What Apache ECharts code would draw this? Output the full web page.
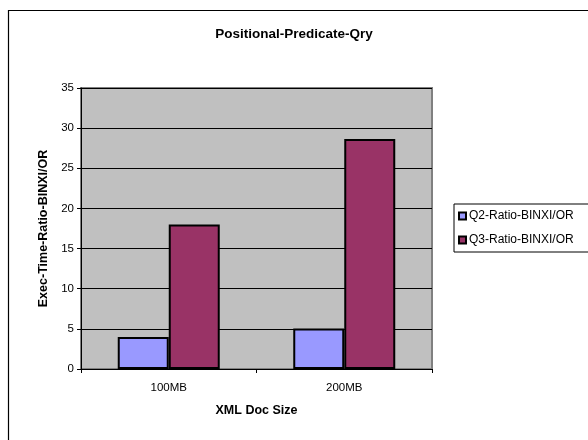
<!DOCTYPE html>
<html>
<head>
<meta charset="utf-8">
<script src="https://cdn.jsdelivr.net/npm/echarts@6/dist/echarts.min.js"></script>
<style>
html,body{margin:0;padding:0;background:#fff;}
#chart{width:588px;height:440px;}
</style>
</head>
<body>
<div id="chart"></div>
<script>
// Document sizes on the x axis
const categories = ['100MB', '200MB'];
// Execution time ratios BINXI / OR per query
const q2Ratio = [4.0, 5.05];
const q3Ratio = [18.0, 28.65];
const seriesNames = ['Q2-Ratio-BINXI/OR', 'Q3-Ratio-BINXI/OR'];
const yTicks = { min: 0, max: 35, interval: 5 };

const FONT = '"Liberation Sans", Arial, sans-serif';
const chart = echarts.init(document.getElementById('chart'), null, { renderer: 'canvas' });

chart.setOption({
  backgroundColor: '#ffffff',
  animation: false,
  graphic: [
    {
      type: 'rect',
      shape: { x: 8.5, y: 10.5, width: 620, height: 460 },
      style: { fill: 'none', stroke: '#000', lineWidth: 1.2 },
      silent: true
    }
  ],
  title: {
    text: 'Positional-Predicate-Qry',
    left: 289,
    top: 22,
    textAlign: 'center',
    textStyle: { fontFamily: FONT, fontSize: 13.5, fontWeight: 'bold', color: '#000' }
  },
  legend: {
    orient: 'vertical',
    left: 454,
    top: 204,
    width: 140,
    padding: [6, 40, 6, 4],
    itemGap: 12,
    itemWidth: 7,
    itemHeight: 7,
    borderColor: '#000',
    borderWidth: 1,
    backgroundColor: '#fff',
    icon: 'rect',
    textStyle: { fontFamily: FONT, fontSize: 12, color: '#000', padding: [0, 0, 0, -2] },
    data: seriesNames
  },
  grid: {
    left: 81,
    top: 88,
    width: 351,
    height: 281,
    show: true,
    backgroundColor: '#c0c0c0',
    borderColor: '#808080',
    borderWidth: 2
  },
  xAxis: {
    type: 'category',
    data: categories,
    name: 'XML Doc Size',
    nameLocation: 'middle',
    nameGap: 35,
    nameTextStyle: { fontFamily: FONT, fontSize: 12.5, fontWeight: 'bold', color: '#000' },
    axisLine: { show: true, lineStyle: { color: '#000', width: 1 } },
    axisTick: { show: true, alignWithLabel: false, length: 4, lineStyle: { color: '#000' } },
    axisLabel: { fontFamily: FONT, fontSize: 11.5, color: '#000', margin: 13 },
    splitLine: { show: false }
  },
  yAxis: {
    type: 'value',
    min: yTicks.min,
    max: yTicks.max,
    interval: yTicks.interval,
    name: 'Exec-Time-Ratio-BINXI/OR',
    nameLocation: 'middle',
    nameGap: 31,
    nameTextStyle: { fontFamily: FONT, fontSize: 12.5, fontWeight: 'bold', color: '#000' },
    axisLine: { show: true, lineStyle: { color: '#000', width: 1 } },
    axisTick: { show: true, length: 4, lineStyle: { color: '#000' } },
    axisLabel: { fontFamily: FONT, fontSize: 11.5, color: '#000', margin: 7 },
    splitLine: { show: true, lineStyle: { color: '#000', width: 1 } }
  },
  series: [
    {
      name: seriesNames[0],
      type: 'bar',
      data: q2Ratio,
      barWidth: 51,
      barGap: '0%',
      itemStyle: { color: '#9999ff', borderColor: '#000', borderWidth: 2 }
    },
    {
      name: seriesNames[1],
      type: 'bar',
      data: q3Ratio,
      barWidth: 51,
      barGap: '0%',
      itemStyle: { color: '#993366', borderColor: '#000', borderWidth: 2 }
    }
  ]
});
</script>
</body>
</html>
